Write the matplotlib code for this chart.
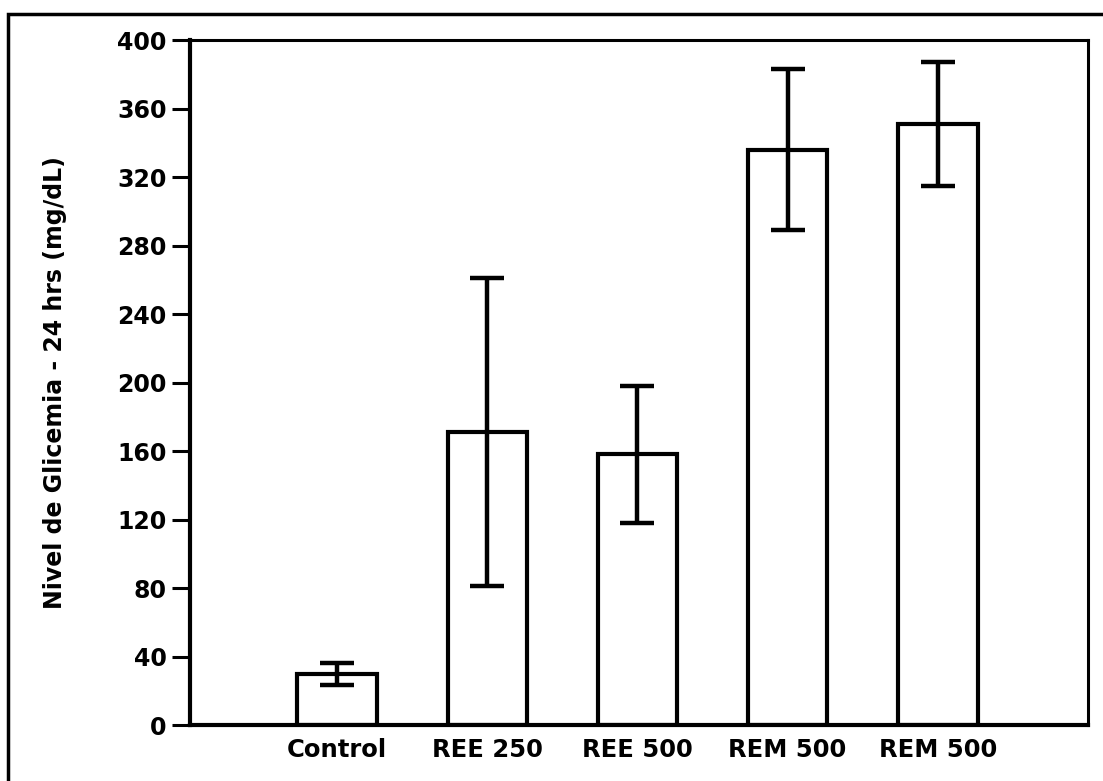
import numpy as np
import matplotlib
matplotlib.use('Agg')
from matplotlib import pyplot as plt
from matplotlib.patches import Rectangle

groups = ['Control', 'REE 250', 'REE 500', 'REM 500', 'REM 500']
glicemia = [30, 171, 158, 336, 351]
err = [6.5, 90, 40, 47, 36]
yticks = [0, 40, 80, 120, 160, 200, 240, 280, 320, 360, 400]

plt.rcParams['font.family'] = ['DejaVu Sans']
plt.rcParams['font.weight'] = 'bold'

fig = plt.figure(figsize=(11.03, 7.81), dpi=100)
ax = fig.add_axes([0.1723, 0.0717, 0.814, 0.877])

x = np.arange(len(groups))
ax.bar(x, glicemia, width=0.53, color='white', edgecolor='black', linewidth=3, zorder=2)
ax.errorbar(x, glicemia, yerr=err, fmt='none', ecolor='black', elinewidth=3.2,
            capsize=12, capthick=3.2, zorder=3)

ax.set_xlim(-0.98, 5.0)
ax.set_ylim(0, 400)
ax.set_yticks(yticks)
ax.set_xticks(x)
ax.set_xticklabels(groups, fontsize=17.5, fontweight='bold')
ax.tick_params(axis='x', length=0, pad=9)
ax.tick_params(axis='y', length=13, width=2.2, labelsize=17, pad=4)
for t in ax.get_yticklabels():
    t.set_fontweight('bold')
ax.set_ylabel('Nivel de Glicemia - 24 hrs (mg/dL)', fontsize=17, fontweight='bold', labelpad=36)

for s in ['left', 'bottom']:
    ax.spines[s].set_linewidth(3)
for s in ['top', 'right']:
    ax.spines[s].set_linewidth(2.2)

# outer frame around the picture
fig.patches.append(Rectangle((8 / 1103, -0.05), 1.2, 0.05 + (781 - 14) / 781,
                             transform=fig.transFigure, fill=False,
                             edgecolor='black', linewidth=2.5))

fig.savefig('out.png', dpi=100)
